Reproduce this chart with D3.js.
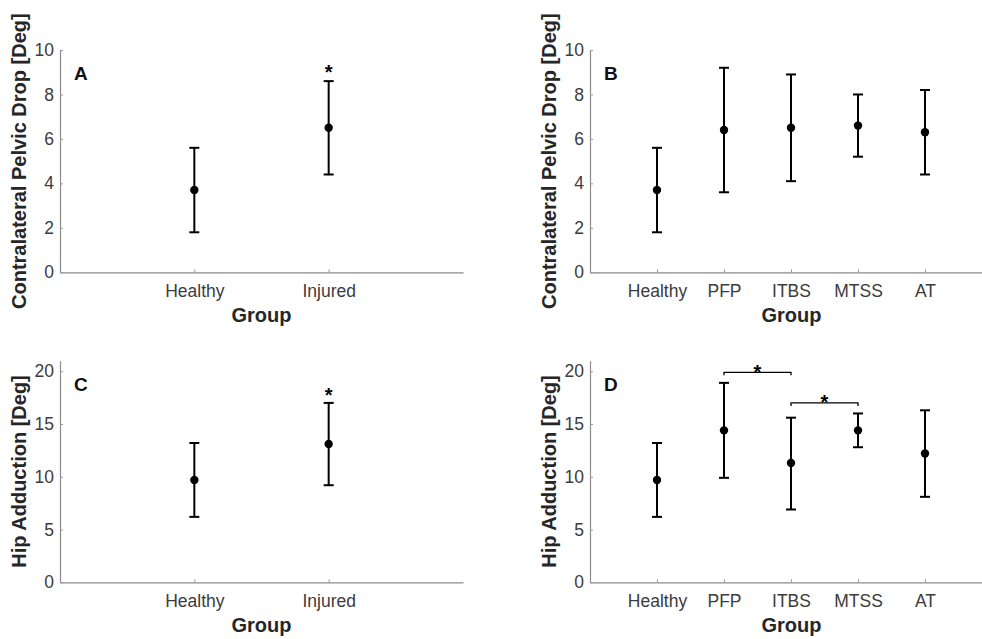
<!DOCTYPE html>
<html lang="en">
<head>
    <meta charset="UTF-8">
    <title>Pelvic drop and hip adduction by group</title>
    <script src="https://d3js.org/d3.v7.min.js"></script>
    <style>
        body { margin: 0; background: #fff; }
        svg { display: block; font-family: "Liberation Sans", Arial, sans-serif; }
    </style>
</head>
<body>
    <svg></svg>

    <script>
        const w = 982;
        const h = 639;

        // groups
        const twoGroups = ["Healthy", "Injured"];
        const fiveGroups = ["Healthy", "PFP", "ITBS", "MTSS", "AT"];

        // contralateral pelvic drop [deg]: mean, lower, upper
        const dropTwoMean = [3.7, 6.5];
        const dropTwoLow = [1.8, 4.4];
        const dropTwoHigh = [5.6, 8.6];
        const dropFiveMean = [3.7, 6.4, 6.5, 6.6, 6.3];
        const dropFiveLow = [1.8, 3.6, 4.1, 5.2, 4.4];
        const dropFiveHigh = [5.6, 9.2, 8.9, 8.0, 8.2];

        // hip adduction [deg]
        const hipTwoMean = [9.7, 13.1];
        const hipTwoLow = [6.2, 9.2];
        const hipTwoHigh = [13.2, 17.0];
        const hipFiveMean = [9.7, 14.4, 11.3, 14.4, 12.2];
        const hipFiveLow = [6.2, 9.9, 6.9, 12.8, 8.1];
        const hipFiveHigh = [13.2, 18.9, 15.6, 16.0, 16.3];

        const dropTicks = [0, 2, 4, 6, 8, 10];
        const hipTicks = [0, 5, 10, 15, 20];

        // significance markers
        const starsA = [{ group: "Injured", y: 9.2 }];
        const starsC = [{ group: "Injured", y: 18.1 }];
        const bracketsD = [
            { from: "PFP", to: "ITBS", y: 19.9 },
            { from: "ITBS", to: "MTSS", y: 17.0 }
        ];

        const svg = d3.select("svg")
            .attr("width", w)
            .attr("height", h);

        const panels = [
            { letter: "A", groups: twoGroups, mean: dropTwoMean, low: dropTwoLow, high: dropTwoHigh,
              left: 60, right: 463, bottom: 272.3, top: 50, ymax: 10, ticks: dropTicks,
              ylabel: "Contralateral Pelvic Drop [Deg]", stars: starsA, brackets: [] },
            { letter: "B", groups: fiveGroups, mean: dropFiveMean, low: dropFiveLow, high: dropFiveHigh,
              left: 590, right: 992, bottom: 272.3, top: 50, ymax: 10, ticks: dropTicks,
              ylabel: "Contralateral Pelvic Drop [Deg]", stars: [], brackets: [] },
            { letter: "C", groups: twoGroups, mean: hipTwoMean, low: hipTwoLow, high: hipTwoHigh,
              left: 60, right: 463, bottom: 582.3, top: 360.7, ymax: 21, ticks: hipTicks,
              ylabel: "Hip Adduction [Deg]", stars: starsC, brackets: [] },
            { letter: "D", groups: fiveGroups, mean: hipFiveMean, low: hipFiveLow, high: hipFiveHigh,
              left: 590, right: 992, bottom: 582.3, top: 360.7, ymax: 21, ticks: hipTicks,
              ylabel: "Hip Adduction [Deg]", stars: [], brackets: bracketsD }
        ];

        panels.forEach(p => {
            const g = svg.append("g");

            const x = d3.scalePoint()
                .domain(p.groups)
                .range([p.left, p.right])
                .padding(1);

            const y = d3.scaleLinear()
                .domain([0, p.ymax])
                .range([p.bottom, p.top]);

            // axes, inward ticks like matlab
            const xAxis = g.append("g")
                .attr("transform", `translate(0, ${p.bottom})`)
                .call(d3.axisBottom(x).tickSizeInner(-3).tickSizeOuter(0).tickPadding(12));

            const yAxis = g.append("g")
                .attr("transform", `translate(${p.left}, 0)`)
                .call(d3.axisLeft(y).tickValues(p.ticks).tickSizeInner(-3).tickSizeOuter(0).tickPadding(6));

            [xAxis, yAxis].forEach(a => {
                a.select(".domain").attr("stroke", "#8a8a8a").attr("stroke-width", 1.2);
                a.selectAll(".tick line").attr("stroke", "#9a9a9a");
                a.selectAll(".tick text")
                    .attr("fill", "#3c3c3c")
                    .attr("font-size", 17.5)
                    .attr("font-family", "'Liberation Sans', Arial, sans-serif");
            });

            // axis labels
            g.append("text")
                .attr("x", (p.left + 463 - 60 + p.left) / 2)
                .attr("y", p.bottom + 50)
                .attr("text-anchor", "middle")
                .attr("font-size", 20)
                .attr("font-weight", "bold")
                .attr("fill", "#262626")
                .text("Group");

            g.append("text")
                .attr("transform", `translate(${p.left - 34}, ${(p.top + p.bottom) / 2}) rotate(-90)`)
                .attr("text-anchor", "middle")
                .attr("font-size", 20)
                .attr("font-weight", "bold")
                .attr("fill", "#262626")
                .text(p.ylabel);

            // panel letter
            g.append("text")
                .attr("x", p.left + 14)
                .attr("y", p.top + 30)
                .attr("font-size", 19)
                .attr("font-weight", "bold")
                .attr("fill", "#111")
                .text(p.letter);

            const rows = p.groups.map((grp, i) => ({
                grp: grp, mean: p.mean[i], low: p.low[i], high: p.high[i]
            }));

            // error bars
            const bars = g.append("g")
                .attr("stroke", "#000")
                .attr("stroke-width", 2);

            bars.selectAll(".stem")
                .data(rows)
                .enter()
                .append("line")
                    .attr("x1", d => x(d.grp))
                    .attr("x2", d => x(d.grp))
                    .attr("y1", d => y(d.low))
                    .attr("y2", d => y(d.high));

            bars.selectAll(".capTop")
                .data(rows)
                .enter()
                .append("line")
                    .attr("x1", d => x(d.grp) - 5)
                    .attr("x2", d => x(d.grp) + 5)
                    .attr("y1", d => y(d.high))
                    .attr("y2", d => y(d.high));

            bars.selectAll(".capBottom")
                .data(rows)
                .enter()
                .append("line")
                    .attr("x1", d => x(d.grp) - 5)
                    .attr("x2", d => x(d.grp) + 5)
                    .attr("y1", d => y(d.low))
                    .attr("y2", d => y(d.low));

            g.selectAll(".dot")
                .data(rows)
                .enter()
                .append("circle")
                    .attr("cx", d => x(d.grp))
                    .attr("cy", d => y(d.mean))
                    .attr("r", 4.2)
                    .attr("fill", "#000");

            // stars
            g.selectAll(".star")
                .data(p.stars)
                .enter()
                .append("text")
                    .attr("x", d => x(d.group))
                    .attr("y", d => y(d.y) + 11)
                    .attr("text-anchor", "middle")
                    .attr("font-size", 20)
                    .attr("font-weight", "bold")
                    .text("*");

            // brackets
            const br = g.selectAll(".bracket")
                .data(p.brackets)
                .enter()
                .append("g");

            br.append("path")
                .attr("d", d => `M${x(d.from)},${y(d.y) + 3}V${y(d.y)}H${x(d.to)}V${y(d.y) + 3}`)
                .attr("fill", "none")
                .attr("stroke", "#000")
                .attr("stroke-width", 1.3);

            br.append("text")
                .attr("x", d => (x(d.from) + x(d.to)) / 2)
                .attr("y", d => y(d.y) + 6.5)
                .attr("text-anchor", "middle")
                .attr("font-size", 20)
                .attr("font-weight", "bold")
                .text("*");
        });
    </script>
</body>
</html>
